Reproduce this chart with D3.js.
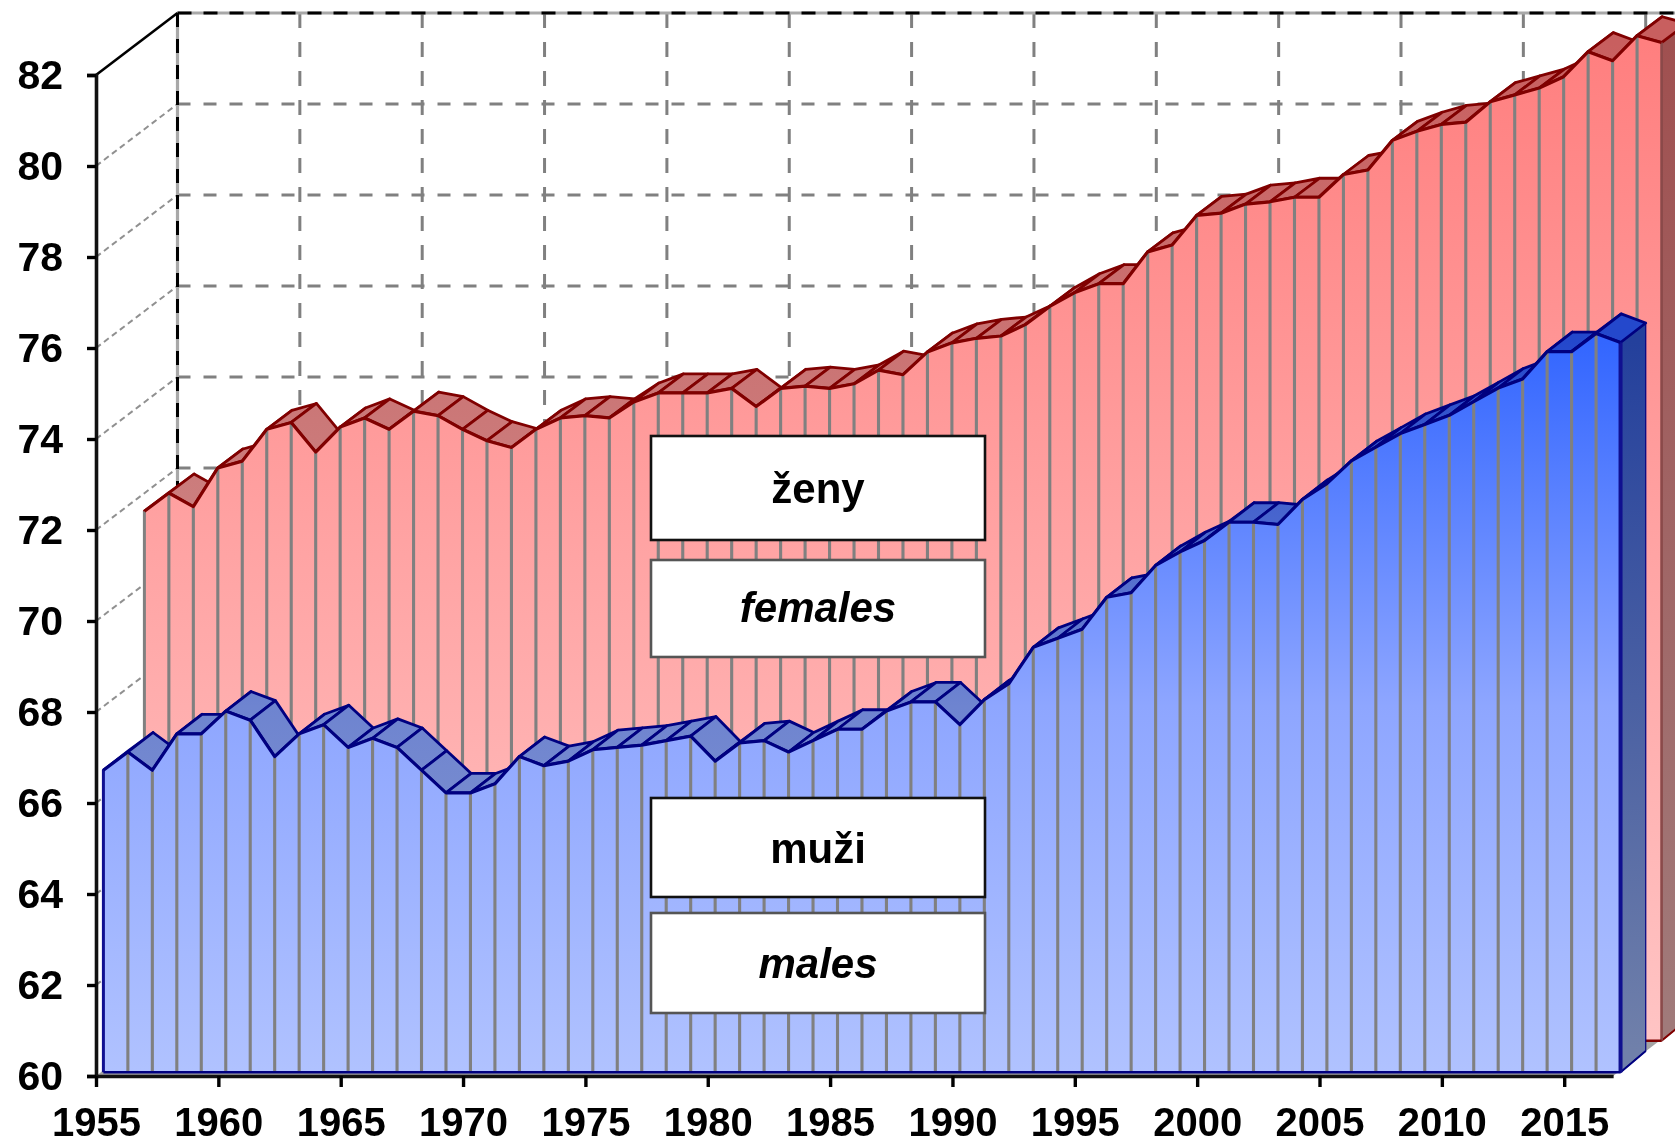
<!DOCTYPE html>
<html><head><meta charset="utf-8">
<script src="https://cdn.jsdelivr.net/npm/d3@7"></script>
<style>html,body{margin:0;padding:0;background:#fff;overflow:hidden}svg{display:block;filter:blur(0.7px)}</style>
</head><body><svg id="c" width="1675" height="1146"></svg>
<script>
const years = d3.range(1955, 2018);
const males = [66.6,67.0,66.6,67.4,67.4,67.9,67.7,66.9,67.4,67.6,67.1,67.3,67.1,66.6,66.1,66.1,66.3,66.9,66.7,
  66.8,67.05,67.1,67.15,67.25,67.35,66.8,67.2,67.25,67.0,67.25,67.5,67.5,67.9,68.1,68.1,67.6,
  68.15,68.5,69.3,69.5,69.7,70.4,70.5,71.1,71.4,71.65,72.05,72.05,72.0,72.55,72.9,73.4,73.7,74.0,74.2,74.4,
  74.7,75.0,75.2,75.8,75.8,76.2,76.0];
const females = [71.6,72.0,71.7,72.55,72.7,73.4,73.55,72.9,73.45,73.65,73.4,73.8,73.7,73.4,73.15,73.0,73.4,73.65,
  73.7,73.65,74.0,74.2,74.2,74.2,74.3,73.9,74.3,74.35,74.3,74.4,74.7,74.6,75.1,75.3,75.4,75.45,
  75.7,76.1,76.4,76.6,76.6,77.3,77.45,78.1,78.15,78.35,78.4,78.5,78.5,79.0,79.1,79.75,79.95,80.1,80.15,80.6,
  80.75,80.9,81.15,81.7,81.5,82.05,81.9];
const yTicks = d3.range(60, 83, 2);
const xTicks = d3.range(1955, 2016, 5);
const labelBoxes = [
  {text:"ženy", italic:false, row:0},
  {text:"females", italic:true, row:1},
  {text:"muži", italic:false, row:2},
  {text:"males", italic:true, row:3}
];
const boxTop = [436,560,798,913], boxBottom = [540,657,897,1013], boxBase = [503,622,863,978];

const svg = d3.select("#c");
const font = "'Liberation Sans', Arial, sans-serif";
const x = d3.scaleLinear().domain([1955, 2017]).range([96, 96 + 62 * 24.47]);
const y = d3.scaleLinear().domain([60, 82]).range([1076, 75]);

// depth offsets of the 3-D projection
const wall  = {dx: 81.5, dy: -62};
const blueF = {dx: 7.4,  dy: -5.5};
const blueB = {dx: 32.6, dy: -25};
const redF  = {dx: 48.4, dy: -37};
const redB  = {dx: 73.6, dy: -56};
const baseNudge = 1.8;

const defs = svg.append("defs");
function grad(id, y1, y2, stops) {
  const g = defs.append("linearGradient").attr("id", id).attr("gradientUnits", "userSpaceOnUse")
    .attr("x1", 0).attr("x2", 0).attr("y1", y1).attr("y2", y2);
  stops.forEach(s => g.append("stop").attr("offset", s[0]).attr("stop-color", s[1]));
}
grad("bf", 342, 1071, [[0, "#3366ff"], [0.5, "#8ea6ff"], [1, "#b0c2ff"]]);
grad("bt", 342, 1071, [[0, "#2448cc"], [0.5, "#6e84d0"], [1, "#8c9bcc"]]);
grad("bs", 342, 1050, [[0, "#24409c"], [1, "#7080aa"]]);
grad("rf", 43, 1039, [[0, "#ff7f7f"], [0.5, "#ffa3a3"], [1, "#ffc4c4"]]);
grad("rt", 43, 1039, [[0, "#c85f5f"], [0.5, "#cc8080"], [1, "#cc9c9c"]]);
grad("rs", 43, 1020, [[0, "#a05050"], [1, "#a07a7a"]]);

// floor
svg.append("path").attr("fill", "#a4a4a4").attr("stroke", "none")
  .attr("d", d3.line()([[x(1955), y(60)], [x(2017), y(60)], [x(2017) + wall.dx, y(60) + wall.dy], [x(1955) + wall.dx, y(60) + wall.dy]]));

// back wall gridlines
const grid = svg.append("g").attr("fill", "none");
grid.selectAll(".h").data(yTicks.filter(v => v > 60 && v < 82)).join("line")
  .attr("x1", x(1955) + wall.dx).attr("x2", x(2017) + wall.dx)
  .attr("y1", d => y(d) + wall.dy).attr("y2", d => y(d) + wall.dy)
  .attr("stroke", "#808080").attr("stroke-width", 3).attr("stroke-dasharray", "13 13");
grid.selectAll(".v").data(xTicks.slice(1)).join("line")
  .attr("x1", d => x(d) + wall.dx).attr("x2", d => x(d) + wall.dx)
  .attr("y1", y(82) + wall.dy).attr("y2", y(60) + wall.dy)
  .attr("stroke", "#808080").attr("stroke-width", 3).attr("stroke-dasharray", "15 14");
// side wall
grid.selectAll(".s").data(yTicks.filter(v => v > 60 && v < 82)).join("line")
  .attr("x1", x(1955)).attr("x2", x(1955) + wall.dx)
  .attr("y1", d => y(d)).attr("y2", d => y(d) + wall.dy)
  .attr("stroke", "#909090").attr("stroke-width", 2).attr("stroke-dasharray", "6 4");
// wall frame
const frame = svg.append("g").attr("fill", "none");
[[x(1955) + wall.dx, y(82) + wall.dy, x(2017) + wall.dx + 10, y(82) + wall.dy],
 [x(1955) + wall.dx, y(82) + wall.dy, x(1955) + wall.dx, y(60) + wall.dy]].forEach(s => {
  frame.append("line").attr("x1", s[0]).attr("y1", s[1]).attr("x2", s[2]).attr("y2", s[3])
    .attr("stroke", "#a8a8a8").attr("stroke-width", 3.2);
  frame.append("line").attr("x1", s[0]).attr("y1", s[1]).attr("x2", s[2]).attr("y2", s[3])
    .attr("stroke", "#000").attr("stroke-width", 3).attr("stroke-dasharray", "14 12");
});
frame.append("line").attr("x1", x(1955)).attr("y1", y(82)).attr("x2", x(1955) + wall.dx).attr("y2", y(82) + wall.dy)
  .attr("stroke", "#000").attr("stroke-width", 2.6);

function series(values, f, b, faceId, topId, sideId, edge, baseV) {
  const g = svg.append("g");
  const px = i => x(years[i]) + f.dx;
  const py = i => y(values[i]) + f.dy;
  const qx = i => x(years[i]) + b.dx;
  const qy = i => y(values[i]) + b.dy;
  const base = y(baseV) + f.dy + baseNudge;
  const n = values.length;
  // right end side face
  g.append("path").attr("fill", `url(#${sideId})`).attr("stroke", edge).attr("stroke-width", 1.2)
    .attr("d", d3.line()([[px(n - 1), py(n - 1)], [qx(n - 1), qy(n - 1)], [qx(n - 1), y(baseV) + b.dy], [px(n - 1), base]]) + "Z");
  // floor edge of depth
  g.append("line").attr("x1", px(n - 1)).attr("y1", base).attr("x2", qx(n - 1)).attr("y2", y(baseV) + b.dy)
    .attr("stroke", edge).attr("stroke-width", 2);
  // top ribbon
  g.selectAll(".rib").data(d3.range(n - 1)).join("path")
    .attr("fill", `url(#${topId})`).attr("stroke", edge).attr("stroke-width", 2.8).attr("stroke-linejoin", "round")
    .attr("d", i => d3.line()([[px(i), py(i)], [px(i + 1), py(i + 1)], [qx(i + 1), qy(i + 1)], [qx(i), qy(i)]]) + "Z");
  const area = d3.area().x((d, i) => px(i)).y0(base).y1((d, i) => py(i));
  g.append("path").attr("fill", `url(#${faceId})`).attr("d", area(values));
  return {g, px, py, base, n, edge};
}
function finish(s, leftColor, rightColor, rightW) {
  const {g, px, py, base, n, edge} = s;
  g.selectAll(".div").data(d3.range(1, n - 1)).join("line")
    .attr("x1", px).attr("x2", px).attr("y1", i => py(i) + 1).attr("y2", base)
    .attr("stroke", "#808080").attr("stroke-width", 3.1);
  g.append("line").attr("x1", px(0)).attr("x2", px(0)).attr("y1", py(0)).attr("y2", base)
    .attr("stroke", leftColor).attr("stroke-width", 3);
  g.append("line").attr("x1", px(n - 1)).attr("x2", px(n - 1)).attr("y1", py(n - 1)).attr("y2", base)
    .attr("stroke", rightColor).attr("stroke-width", rightW);
  g.append("line").attr("x1", px(0)).attr("x2", px(n - 1)).attr("y1", base).attr("y2", base)
    .attr("stroke", edge).attr("stroke-width", 2.4);
  g.append("path").attr("fill", "none").attr("stroke", edge).attr("stroke-width", 3.2).attr("stroke-linejoin", "round")
    .attr("d", d3.line().x((d, i) => px(i)).y((d, i) => py(i))(Array.from({length: n})));
}
const red = series(females, redF, redB, "rf", "rt", "rs", "#800000", 60);
finish(red, "#808080", "#8a4a4a", 2.6);
const blue = series(males, blueF, blueB, "bf", "bt", "bs", "#000080", 60);
finish(blue, "#101090", "#101090", 4);

// axes
const axisY = d3.axisLeft(y).tickValues(yTicks).tickSize(9).tickPadding(24).tickFormat(d3.format("d"));
const axisX = d3.axisBottom(x).tickValues(xTicks).tickSize(11).tickSizeOuter(0).tickPadding(21).tickFormat(d3.format("d"));
const gy = svg.append("g").attr("transform", `translate(${x(1955)},0)`).call(axisY);
const gx = svg.append("g").attr("transform", `translate(0,${y(60)})`).call(axisX);
[[gy, 41], [gx, 40]].forEach(([g, size]) => {
  g.selectAll("path").attr("stroke", "#111").attr("stroke-width", 3.6);
  g.selectAll("line").attr("stroke", "#000").attr("stroke-width", 3.4);
  g.selectAll("text").attr("fill", "#000").attr("font-family", font).attr("font-weight", "bold").attr("font-size", size);
});

// label boxes
const boxes = svg.append("g");
const boxX = d3.scaleLinear().domain([0, 1]).range([651, 985]);
labelBoxes.forEach(b => {
  boxes.append("rect").attr("x", boxX(0)).attr("width", boxX(1) - boxX(0))
    .attr("y", boxTop[b.row]).attr("height", boxBottom[b.row] - boxTop[b.row])
    .attr("fill", "#fff").attr("stroke", b.row % 2 ? "#555" : "#111").attr("stroke-width", 2.6);
  boxes.append("text").attr("x", (boxX(0) + boxX(1)) / 2).attr("y", boxBase[b.row]).attr("text-anchor", "middle")
    .attr("font-family", font).attr("font-weight", "bold").attr("font-style", b.italic ? "italic" : "normal")
    .attr("font-size", 42).attr("fill", "#000").text(b.text);
});
</script></body></html>
